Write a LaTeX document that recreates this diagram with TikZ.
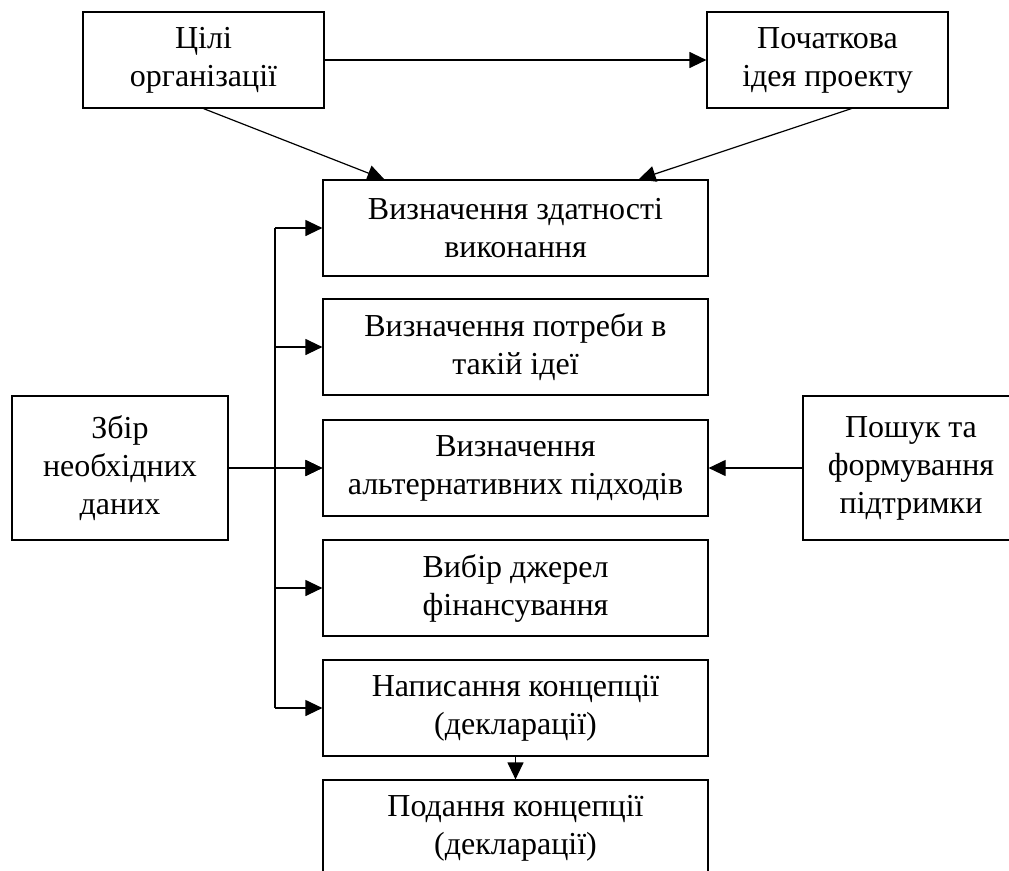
\documentclass[tikz,border=0pt]{standalone}
\usepackage{fontspec}
\setmainfont{Liberation Serif}
\usetikzlibrary{arrows.meta}

\begin{document}
\begin{tikzpicture}[x=1pt,y=-1pt,
    box/.style={draw,line width=1.2pt,align=center,inner sep=0pt,
      font=\fontsize{32}{38}\selectfont},
    arr/.style={line width=1.2pt,-{Triangle[length=17pt,width=16pt]}}]

       \useasboundingbox (0,0) rectangle (1009,870);
       \clip (0,0) rectangle (1009,870);

       \node[box,minimum width=241pt,minimum height=96pt] (goals) at (203.5, 60) {Цілі\\організації};
       \node[box,minimum width=241pt,minimum height=96pt] (idea) at (827.5, 60) {Початкова\\ідея проекту};

       \node[box,minimum width=385pt,minimum height=96pt] (m1) at (515.5, 228) {Визначення здатності\\виконання};
       \node[box,minimum width=385pt,minimum height=96pt] (m2) at (515.5, 347) {Визначення потреби в\\такій ідеї};
       \node[box,minimum width=385pt,minimum height=96pt] (m3) at (515.5, 468) {Визначення\\альтернативних підходів};
       \node[box,minimum width=385pt,minimum height=96pt] (m4) at (515.5, 588) {Вибір джерел\\фінансування};
       \node[box,minimum width=385pt,minimum height=96pt] (m5) at (515.5, 708) {Написання концепції\\(декларації)};
       \node[box,minimum width=385pt,minimum height=96pt] (m6) at (515.5, 828) {Подання концепції\\(декларації)};

       \node[box,minimum width=216pt,minimum height=144pt] (collect) at (120, 468) {Збір\\необхідних\\даних};
       \node[box,minimum width=216pt,minimum height=144pt] (support) at (911, 468) {Пошук та\\формування\\підтримки};

       \coordinate (bus) at (275, 0);

       \draw[arr] (goals) -- (idea);
       \draw[arr] (goals.south) -- ([xshift=62pt]m1.north west);
       \draw[arr] ([xshift=24pt]idea.south) -- ([xshift=-70pt]m1.north east);

       \draw[line width=1.2pt] (bus |- m1.west) -- (bus |- m5.west);
       \foreach \n in {m1,m2,m3,m4,m5}
         \draw[arr] (bus |- \n.west) -- (\n.west);
       \draw[arr] (collect) -- (m3);
       \draw[arr] (support) -- (m3);
       \draw[arr] (m5) -- (m6);
     \end{tikzpicture}
\end{document}
